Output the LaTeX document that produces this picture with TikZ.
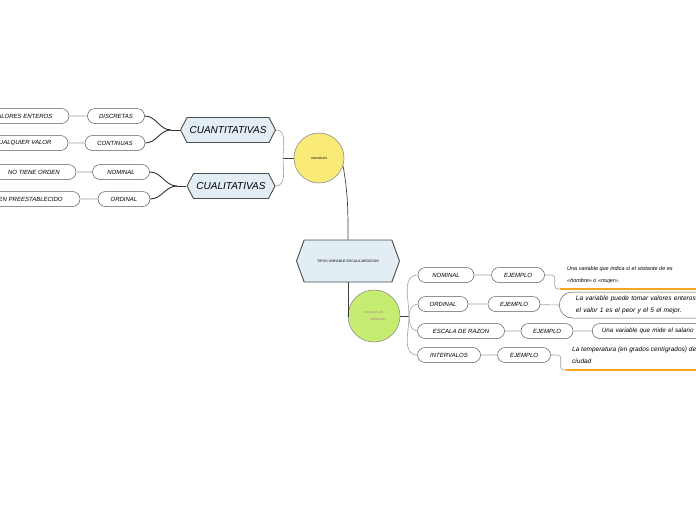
\documentclass[tikz,border=0pt]{standalone}
\usepackage{fontspec}
\setmainfont{Liberation Sans}
\usetikzlibrary{shapes.symbols,shapes.misc,positioning}

\definecolor{hexfill}{HTML}{E2EEF4}
\definecolor{boxline}{HTML}{5A5A5A}
\definecolor{linkgray}{HTML}{A0A0A0}
\definecolor{varyellow}{HTML}{FAEA78}
\definecolor{escgreen}{HTML}{C7EC72}
\definecolor{escpink}{HTML}{B46FA2}
\definecolor{ejorange}{HTML}{F5A623}

\tikzset{
  hexa/.style={shape=signal, signal to=west and east, signal pointer angle=125,
    draw=black!70, fill=hexfill, line width=0.9pt, inner sep=0pt,
    font=\itshape\fontsize{10}{10}\selectfont},
  pill/.style={rounded rectangle, draw=boxline, fill=white, line width=0.5pt,
    minimum height=15pt, inner sep=0pt, font=\itshape\fontsize{6}{6}\selectfont},
  bubble/.style={circle, draw=black!45, line width=0.6pt, inner sep=0pt,
    align=center, font=\fontsize{3}{4.5}\selectfont},
  note/.style={anchor=west, align=left, inner sep=0pt,
    font=\itshape\fontsize{5.5}{12.5}\selectfont},
  notebox/.style={rounded rectangle, rounded rectangle right arc=none, draw=boxline,
    line width=0.5pt, anchor=west, inner ysep=0pt, align=left},
  link/.style={draw=linkgray, line width=0.6pt},
  darklink/.style={draw=black!80, line width=0.9pt},
  mainlink/.style={draw=black!75, line width=0.7pt},
  underline/.style={draw=ejorange, line width=1.6pt}
}

\begin{document}
\begin{tikzpicture}[x=1pt,y=-1pt]
\useasboundingbox (0,0) rectangle (696,520);
\clip (0,0) rectangle (696,520);

% centre and the two bubbles
\node[hexa, signal pointer angle=140, minimum width=103pt, minimum height=42pt,
  font=\fontsize{3.5}{4}\selectfont] (tipos) at (348,261) {TIPOS VARIABLE-ESCALA MEDICION};
\node[bubble, fill=varyellow, minimum size=50pt] (var) at (319,158) {VARIABLES};
\node[bubble, fill=escgreen, minimum size=52pt, text=escpink] (esc) at (374,316) {ESCALAS DE\\[3pt]\hspace{8pt}MEDICION};

\draw[mainlink] (var.-18) to[out=-80,in=90] (tipos.north);
\draw[mainlink] (tipos.south) |- (esc.west);

% left side
\node[hexa, minimum width=95pt, minimum height=25pt] (cuan) at (228,130) {CUANTITATIVAS};
\node[hexa, minimum width=88pt, minimum height=25pt] (cual) at (231,186) {CUALITATIVAS};

\coordinate (jvar) at (283,158);
\draw[mainlink] (var.west) -- (jvar);
\draw[link] (cuan.east) to[out=0,in=90] (jvar);
\draw[link] (cual.east) to[out=0,in=-90] (jvar);

\node[pill, minimum width=57pt] (disc) at (116,116) {DISCRETAS};
\node[pill, minimum width=60pt] (cont) at (115,143) {CONTINUAS};
\node[pill, minimum width=57pt] (nomA) at (121,172) {NOMINAL};
\node[pill, minimum width=52pt] (ordA) at (124,199) {ORDINAL};

\coordinate (jcuan) at (171,130);
\coordinate (jcual) at (177,186);
\draw[darklink] (cuan.west) -- (jcuan);
\draw[darklink] (jcuan) to[out=180,in=0] (disc.east);
\draw[darklink] (jcuan) to[out=180,in=0] (cont.east);
\draw[darklink] (cual.west) -- (jcual);
\draw[darklink] (jcual) to[out=180,in=0] (nomA.east);
\draw[darklink] (jcual) to[out=180,in=0] (ordA.east);

\node[pill, minimum width=92pt] (ent) at (23,116) {VALORES ENTEROS};
\node[pill, minimum width=90pt] (cual2) at (23,143) {CUALQUIER VALOR};
\node[pill, minimum width=84pt] (noord) at (34,172) {NO TIENE ORDEN};
\node[pill, minimum width=112pt] (preest) at (24,199) {ORDEN PREESTABLECIDO};

\draw[link] (ent) -- (disc);
\draw[link] (cual2) -- (cont);
\draw[link] (noord) -- (nomA);
\draw[link] (preest) -- (ordA);

% right side
\node[pill, minimum width=56pt] (nomB) at (446,275) {NOMINAL};
\node[pill, minimum width=50pt] (ordB) at (443,304) {ORDINAL};
\node[pill, minimum width=87pt] (raz) at (461,331) {ESCALA DE RAZON};
\node[pill, minimum width=63pt] (int) at (449,355) {INTERVALOS};

\coordinate (jesc) at (409,316);
\draw[mainlink] (esc.east) -- (jesc);
\foreach \n in {nomB,ordB}
  \draw[link] (jesc) to[out=90,in=180] (\n.west);
\foreach \n in {raz,int}
  \draw[link] (jesc) to[out=-90,in=180] (\n.west);

\node[pill, minimum width=53pt] (ej1) at (518,275) {EJEMPLO};
\node[pill, minimum width=52pt] (ej2) at (514,304) {EJEMPLO};
\node[pill, minimum width=52pt] (ej3) at (547,331) {EJEMPLO};
\node[pill, minimum width=53pt] (ej4) at (524,355) {EJEMPLO};

\draw[link] (nomB) -- (ej1);
\draw[link] (ordB) -- (ej2);
\draw[link] (raz) -- (ej3);
\draw[link] (int) -- (ej4);

% examples
\node[note] (txt1) at (567,275) {Una variable que indica si el visitante de es\\«hombre» o «mujer».};
\coordinate (u1s) at (560,289);
\coordinate (u1e) at (700,289);
\draw[link, rounded corners=3pt] (ej1.east) -- ++(10,0) |- (u1s);
\draw[underline] (u1s) -- (u1e);

\node[notebox, minimum height=26pt, text width=180pt, inner xsep=13pt,
  font=\itshape\fontsize{6.6}{12}\selectfont] (txt2) at (559,305)
  {La variable puede tomar valores enteros\\el valor 1 es el peor y el 5 el mejor.};
\draw[link] (ej2) -- (txt2.west);

\node[notebox, minimum height=15pt, text width=150pt, inner xsep=9pt,
  font=\itshape\fontsize{6.3}{7}\selectfont] (txt3) at (592,331)
  {Una variable que mide el salario};
\draw[link] (ej3) -- (txt3.west);

\node[note, font=\itshape\fontsize{6.5}{12}\selectfont] (txt4) at (572,355)
  {La temperatura (en grados centígrados) de una\\ciudad};
\coordinate (u4s) at (566,370);
\coordinate (u4e) at (700,370);
\draw[link, rounded corners=3pt] (ej4.east) -- ++(10,0) |- (u4s);
\draw[underline] (u4s) -- (u4e);

\end{tikzpicture}
\end{document}
